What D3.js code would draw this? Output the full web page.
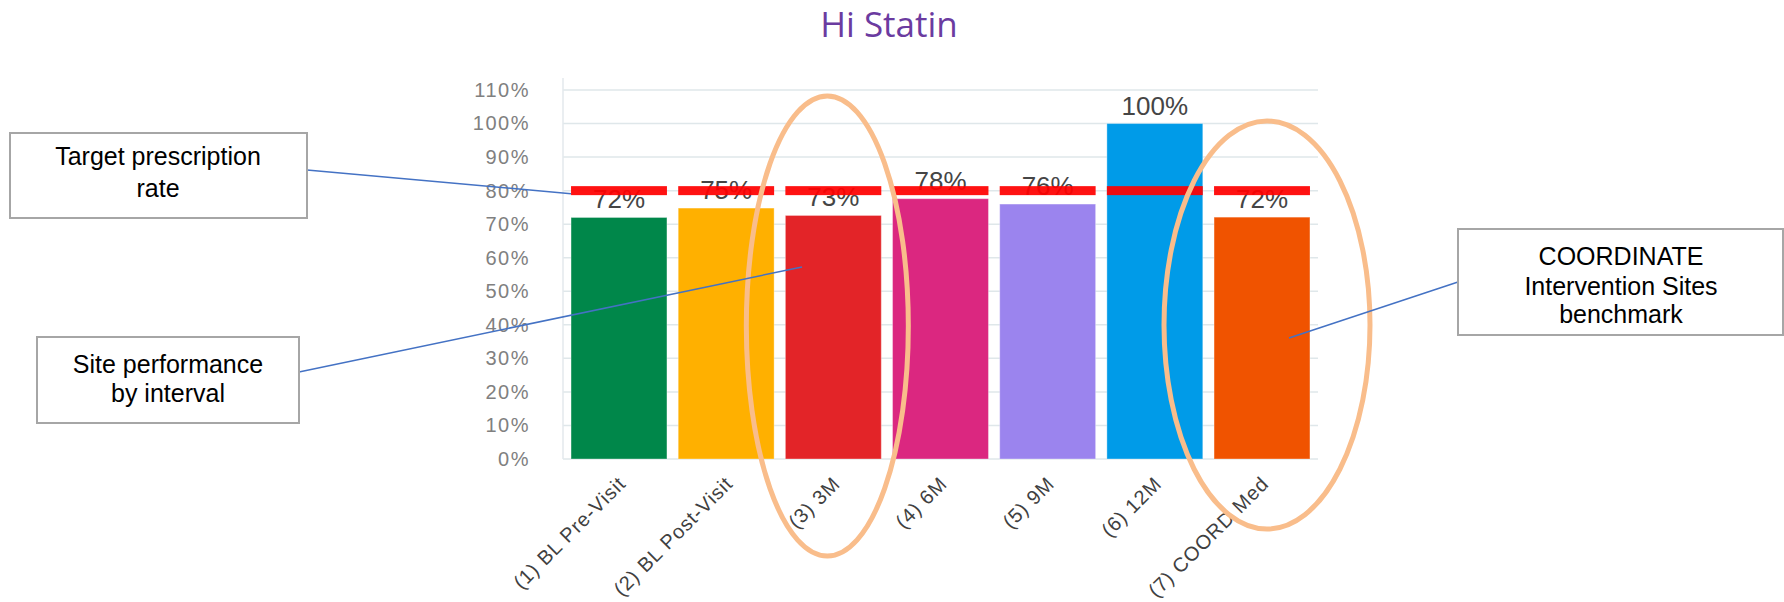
<!DOCTYPE html>
<html>
<head>
<meta charset="utf-8">
<script src="https://cdn.jsdelivr.net/npm/d3@7"></script>
<style>
  html, body { margin: 0; padding: 0; background: #ffffff; }
  svg { display: block; }
</style>
</head>
<body>
<div id="chart"></div>
<script>
// ---- data ----
const categories = ["(1) BL Pre-Visit", "(2) BL Post-Visit", "(3) 3M", "(4) 6M", "(5) 9M", "(6) 12M", "(7) COORD Med"];
const values = [0.72, 0.748, 0.726, 0.776, 0.76, 1.0, 0.721];
const barColors = ["#00874a", "#ffb000", "#e32428", "#db2780", "#9b84ee", "#009be8", "#f05300"];
const target = 0.80;
const yTicks = [0, 0.1, 0.2, 0.3, 0.4, 0.5, 0.6, 0.7, 0.8, 0.9, 1.0, 1.1];
const titleText = "Hi Statin";
const notes = [
  { lines: ["Target prescription", "rate"] },
  { lines: ["Site performance", "by interval"] },
  { lines: ["COORDINATE", "Intervention Sites", "benchmark"] }
];

// ---- layout ----
const W = 1784, H = 602;
const plot = { left: 563, right: 1318, top: 90, bottom: 459 };

const svg = d3.select("#chart").append("svg").attr("width", W).attr("height", H);

const x = d3.scaleBand().domain(categories).range([plot.left, plot.right])
  .paddingInner(0.105).paddingOuter(0.075);
const y = d3.scaleLinear().domain([0, 1.1]).range([plot.bottom, plot.top]);
const pct = d3.format(".0%");

// title
svg.append("text").attr("x", 889).attr("y", 37).attr("text-anchor", "middle")
  .attr("font-family", "'Open Sans', sans-serif").attr("font-size", 35)
  .attr("fill", "#6b3ba0").text(titleText);

// gridlines
svg.append("g").selectAll("line").data(yTicks).join("line")
  .attr("x1", plot.left).attr("x2", plot.right)
  .attr("y1", d => y(d)).attr("y2", d => y(d))
  .attr("stroke", "#dfe7ea").attr("stroke-width", 1.5);
// y axis line
svg.append("line").attr("x1", plot.left).attr("x2", plot.left)
  .attr("y1", plot.top - 12).attr("y2", plot.bottom)
  .attr("stroke", "#e3e9ec").attr("stroke-width", 1.5);

// y axis labels
const yAxis = d3.axisLeft(y).tickValues(yTicks).tickFormat(pct).tickSize(0).tickPadding(0);
const yg = svg.append("g").attr("transform", `translate(${530},0)`).call(yAxis);
yg.select(".domain").remove();
yg.selectAll("text").attr("font-family", "'Liberation Sans', Arial, sans-serif")
  .attr("font-size", 20).attr("letter-spacing", 1.5).attr("fill", "#808080");

// bars
svg.append("g").selectAll("rect").data(values).join("rect")
  .attr("x", (d, i) => x(categories[i]))
  .attr("width", x.bandwidth())
  .attr("y", d => y(d))
  .attr("height", d => y(0) - y(d))
  .attr("fill", (d, i) => barColors[i])
  .attr("stroke", "rgba(255,255,255,0.35)").attr("stroke-width", 1);

// value labels
svg.append("g").selectAll("text").data(values).join("text")
  .attr("x", (d, i) => x(categories[i]) + x.bandwidth() / 2)
  .attr("y", d => y(d) - 9)
  .attr("text-anchor", "middle")
  .attr("font-family", "'Liberation Sans', Arial, sans-serif")
  .attr("font-size", 26).attr("fill", "#454545")
  .text(d => pct(d));

// target dashes
svg.append("g").selectAll("rect").data(categories).join("rect")
  .attr("x", d => x(d)).attr("width", x.bandwidth())
  .attr("y", y(target) - 4.5).attr("height", 9)
  .attr("fill", "#ff0000").attr("opacity", 0.93);

// x labels
svg.append("g").selectAll("text").data(categories).join("text")
  .attr("transform", d => `translate(${x(d) + x.bandwidth() / 2 + 8},${485}) rotate(-45)`)
  .attr("text-anchor", "end")
  .attr("font-family", "'Liberation Sans', Arial, sans-serif")
  .attr("font-size", 20).attr("letter-spacing", 0.9).attr("fill", "#404040")
  .text(d => d);

// ellipses
const ell = svg.append("g").attr("fill", "none").attr("stroke", "#f9bd8b").attr("stroke-width", 5);
ell.append("ellipse").attr("cx", x(categories[2]) + x.bandwidth() / 2 - 6).attr("cy", 326).attr("rx", 81).attr("ry", 230);
ell.append("ellipse").attr("cx", x(categories[6]) + x.bandwidth() / 2 + 5).attr("cy", 325).attr("rx", 103).attr("ry", 204);

// annotation boxes
const boxes = [
  { x: 10, y: 133, w: 297, h: 85, baselines: [165, 197], cx: 158, from: [307, 170], to: [x(categories[0]), y(target) + 3] },
  { x: 37, y: 337, w: 262, h: 86, baselines: [373, 402], cx: 168, from: [299, 372], to: [802, 267] },
  { x: 1458, y: 229, w: 325, h: 106, baselines: [265, 295, 323], cx: 1621, from: [1458, 282], to: [1289, 338] }
];
boxes.forEach((b, i) => {
  svg.append("line").attr("x1", b.from[0]).attr("y1", b.from[1]).attr("x2", b.to[0]).attr("y2", b.to[1])
    .attr("stroke", "#4472c4").attr("stroke-width", 1.5);
  svg.append("rect").attr("x", b.x).attr("y", b.y).attr("width", b.w).attr("height", b.h)
    .attr("fill", "#ffffff").attr("stroke", "#a6a6a6").attr("stroke-width", 2);
  notes[i].lines.forEach((ln, j) => {
    svg.append("text").attr("x", b.cx).attr("y", b.baselines[j]).attr("text-anchor", "middle")
      .attr("font-family", "'Liberation Sans', Arial, sans-serif").attr("font-size", 25)
      .attr("fill", "#000000").text(ln);
  });
});
</script>
</body>
</html>
